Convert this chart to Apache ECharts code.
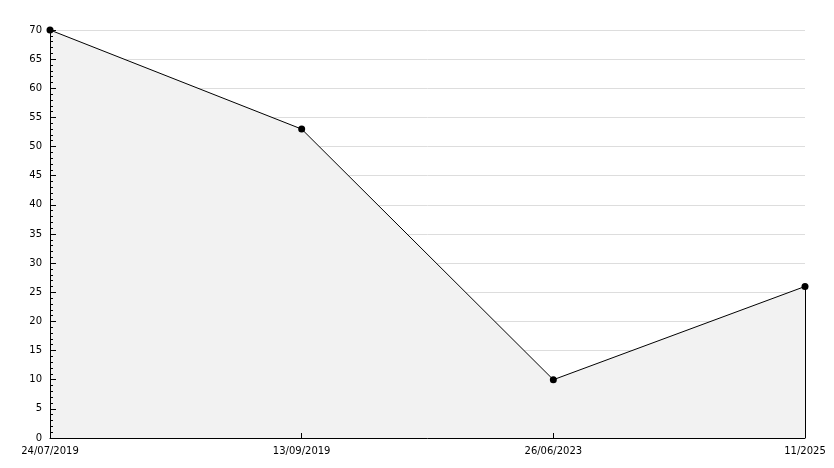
<!DOCTYPE html>
<html>
<head>
<meta charset="utf-8">
<script src="https://cdn.jsdelivr.net/npm/echarts@6/dist/echarts.min.js"></script>
<style>html,body{margin:0;padding:0;background:#fff}#c{width:834px;height:468px}</style>
</head>
<body>
<div id="c"></div>
<script>
const categories = ['24/07/2019', '13/09/2019', '26/06/2023', '11/2025'];
const values = [70, 53, 10, 26];
const yMin = 0, yMax = 70, yInterval = 5;

const chart = echarts.init(document.getElementById('c'), null, {renderer: 'canvas'});
const font = {fontFamily: 'DejaVu Sans', fontSize: 10, color: '#000'};
chart.setOption({
  animation: false,
  backgroundColor: '#fff',
  grid: {left: 50, right: 29, top: 30, bottom: 30, containLabel: false},
  xAxis: {
    type: 'category',
    data: categories,
    boundaryGap: false,
    z: 10,
    axisLine: {show: true, lineStyle: {color: '#000', width: 1}},
    axisTick: {show: true, inside: true, length: 5, lineStyle: {color: '#000'}},
    axisLabel: Object.assign({margin: 8, showMinLabel: true, showMaxLabel: true, interval: 0}, font),
    splitLine: {show: false}
  },
  yAxis: [{
    type: 'value',
    min: yMin, max: yMax, interval: yInterval,
    z: 10,
    axisLine: {show: true, lineStyle: {color: '#000', width: 1}},
    axisTick: {show: true, inside: true, length: 6, lineStyle: {color: '#000'}},
    minorTick: {show: true, splitNumber: 5, length: 3, lineStyle: {color: '#000'}},
    axisLabel: Object.assign({margin: 8}, font),
    splitLine: {show: false}
  }, {
    type: 'value',
    position: 'left',
    min: yMin, max: yMax, interval: yInterval,
    z: 0,
    axisLine: {show: false},
    axisTick: {show: false},
    axisLabel: {show: false},
    splitLine: {show: true, lineStyle: {color: '#dddddd', width: 1}}
  }],
  series: [{
    type: 'line',
    data: values,
    yAxisIndex: 0,
    z: 2,
    symbol: 'circle',
    symbolSize: 7,
    itemStyle: {color: '#000'},
    lineStyle: {color: '#000', width: 1},
    areaStyle: {color: '#f2f2f2', opacity: 1},
    markLine: {
      silent: true,
      symbol: ['none', 'none'],
      label: {show: false},
      lineStyle: {color: '#000', width: 1, type: 'solid'},
      data: [[{coord: [categories.length - 1, values[values.length - 1]]}, {coord: [categories.length - 1, yMin]}]]
    }
  }]
});
</script>
</body>
</html>
